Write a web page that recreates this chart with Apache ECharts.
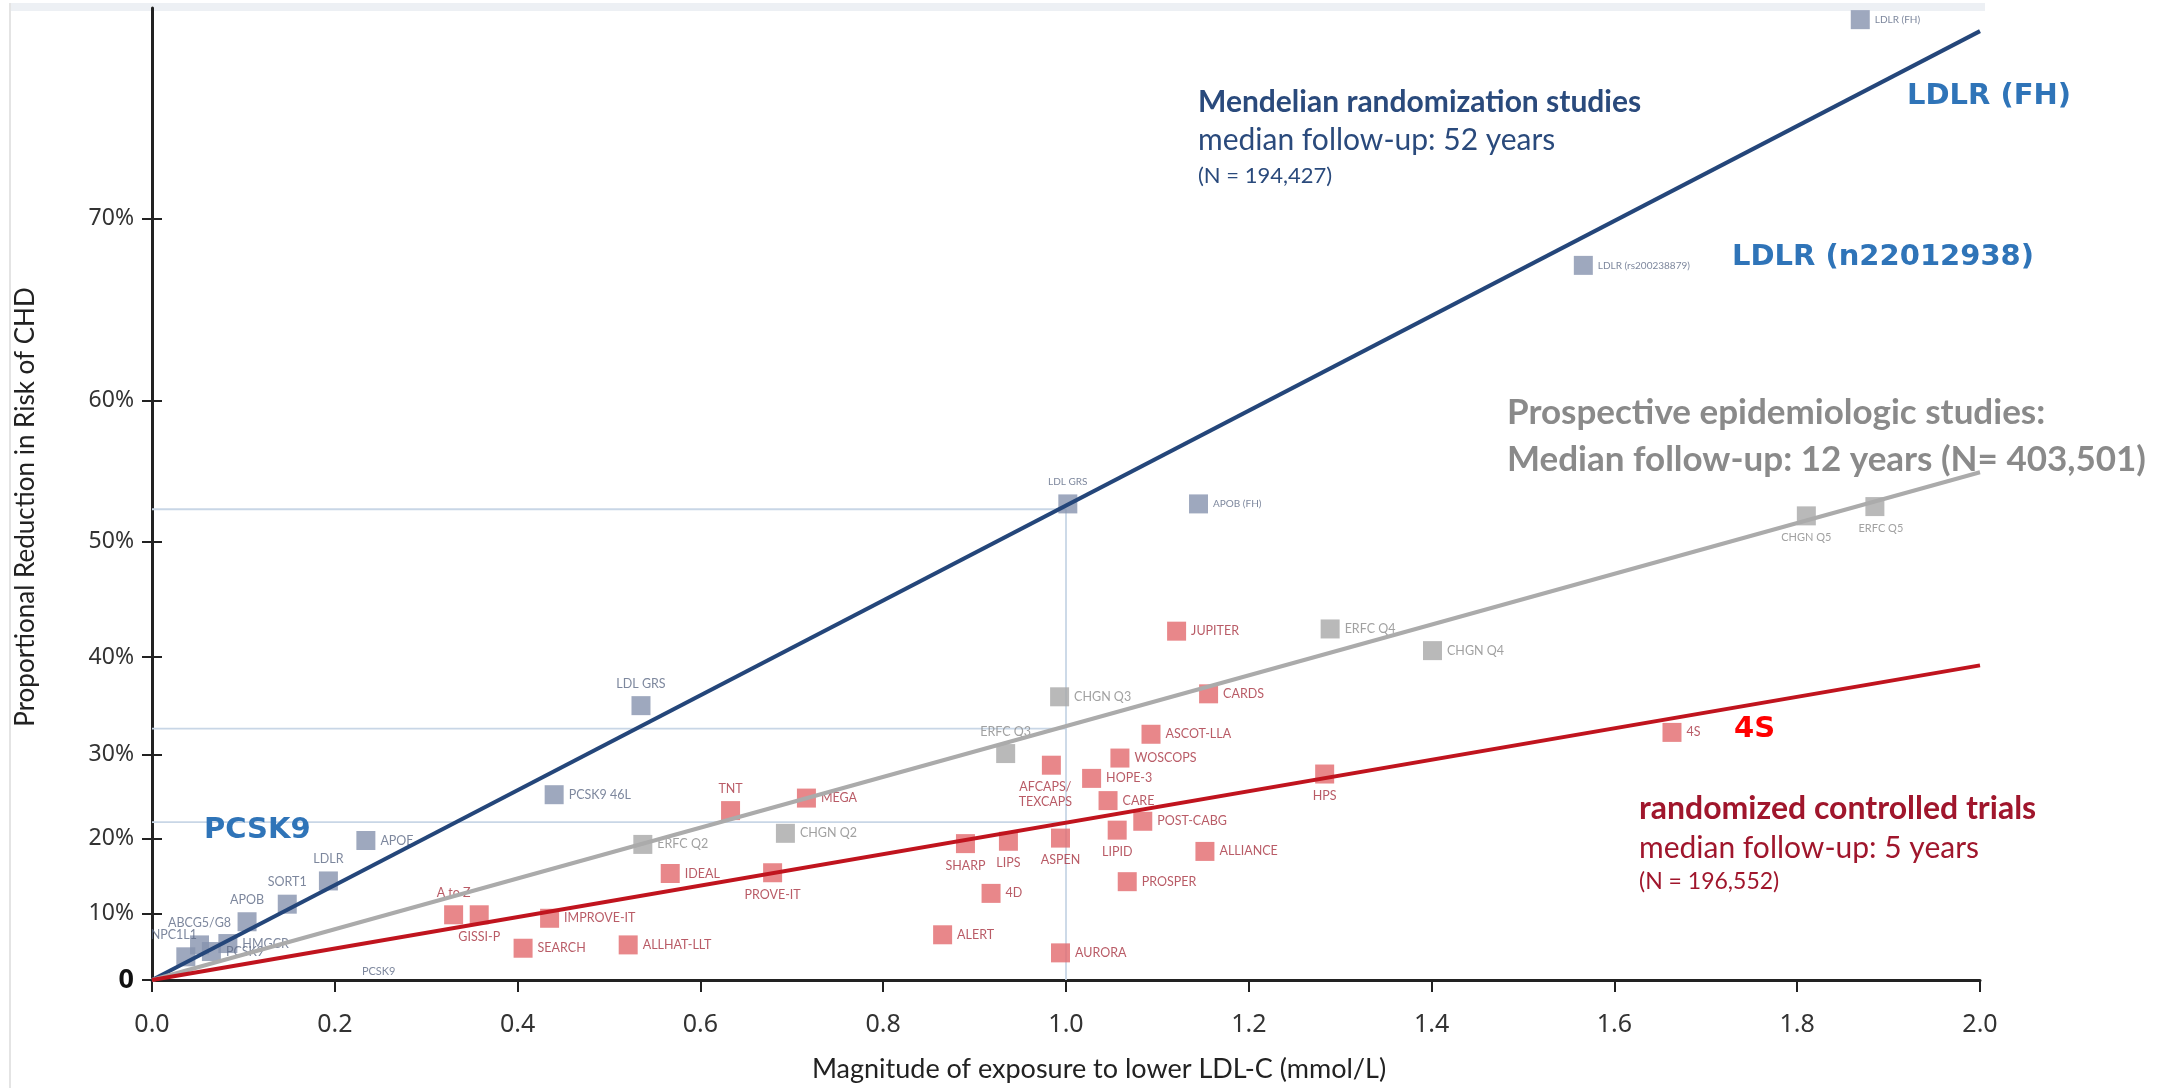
<!DOCTYPE html>
<html><head><meta charset="utf-8">
<script src="https://cdn.jsdelivr.net/npm/echarts@6/dist/echarts.min.js"></script>
<style>html,body{margin:0;padding:0;background:#fff}#c{width:2162px;height:1088px}</style>
</head><body><div id="c"></div>
<script>
// ---------- data (x: mmol/L lower LDL-C, y: % proportional reduction in CHD risk) ----------
const yTickPct = [0, 10, 20, 30, 40, 50, 60, 70];

const mendelNames = ['NPC1L1','ABCG5/G8','PCSK9','HMGCR','APOB','SORT1','LDLR','APOE','PCSK9 46L','LDL GRS','LDL GRS ','APOB (FH)','LDLR (rs200238879)','LDLR (FH)'];
const mendelX = [0.037,0.052,0.065,0.083,0.104,0.148,0.193,0.234,0.440,0.535,1.002,1.145,1.566,1.869];
const mendelY = [3.6,5.4,4.4,5.6,8.8,11.3,14.5,19.8,25.4,35.2,52.9,52.9,67.7,78.1];

const prospNames = ['ERFC Q2','CHGN Q2','ERFC Q3','CHGN Q3','ERFC Q4','CHGN Q4','CHGN Q5','ERFC Q5'];
const prospX = [0.537,0.693,0.934,0.993,1.289,1.401,1.810,1.885];
const prospY = [19.3,20.7,30.1,36.1,42.6,40.6,52.0,52.7];

const rctNames = ['A to Z','GISSI-P','IMPROVE-IT','SEARCH','ALLHAT-LLT','IDEAL','PROVE-IT','TNT','MEGA','ALERT','SHARP','4D','LIPS','AFCAPS/\nTEXCAPS','ASPEN','AURORA','HOPE-3','CARE','WOSCOPS','LIPID','PROSPER','POST-CABG','ASCOT-LLA','JUPITER','ALLIANCE','CARDS','HPS','4S'];
const rctX = [0.330,0.358,0.435,0.406,0.521,0.567,0.679,0.633,0.716,0.865,0.890,0.918,0.937,0.984,0.994,0.994,1.028,1.046,1.059,1.056,1.067,1.084,1.093,1.121,1.152,1.156,1.283,1.663];
const rctY = [9.8,9.8,9.3,4.9,5.4,15.5,15.6,23.5,25.0,6.9,19.4,12.8,19.7,28.8,20.1,4.2,27.3,24.7,29.6,21.1,14.4,22.2,32.2,42.4,18.4,36.4,27.8,32.4];

const orphanLabelName = 'PCSK9';
const orphanLabelX = 0.248;
const orphanLabelY = 1.3;

const fitX = [0, 2.0];
const mendelFitY = [0, 77.7];
const prospFitY = [0, 55.2];
const rctFitY = [0, 39.2];

const refX = [0, 1.0];
const refLevels = [52.5, 32.8, 22.1];

// ---------- styling ----------
const labelPos = {
  'NPC1L1':'top','ABCG5/G8':'top','APOB':'top','SORT1':'top','LDLR':'top','LDL GRS':'top','LDL GRS ':'top',
  'ERFC Q3':'top','CHGN Q5':'bottom','ERFC Q5':'bottom',
  'A to Z':'top','GISSI-P':'bottom','PROVE-IT':'bottom','TNT':'top','SHARP':'bottom','LIPS':'bottom',
  'ASPEN':'bottom','AFCAPS/\nTEXCAPS':'bottom','LIPID':'bottom','HPS':'bottom'
};
const labelOffset = {'NPC1L1':[-12,0],'ERFC Q5':[6,0],'AFCAPS/\nTEXCAPS':[-6,0]};
const labelSize = {'LDLR (FH)':10,'LDLR (rs200238879)':10,'APOB (FH)':10,'LDL GRS ':10,'CHGN Q5':11,'ERFC Q5':11};

const rr = p => 1 - p / 100;   // proportional reduction -> relative risk (log axis, inverted)

function pts(names, xs, ys, lblColor) {
  return names.map((n, i) => ({
    name: n.trim(),
    value: [xs[i], rr(ys[i])],
    label: {
      position: labelPos[n] || 'right',
      offset: labelOffset[n] || [0, 0],
      fontSize: labelSize[n] || 12.5,
      color: lblColor
    }
  }));
}
function seg(xs, ys) { return xs.map((x, i) => [x, rr(ys[i])]); }

const chart = echarts.init(document.getElementById('c'), null, {renderer: 'canvas'});
const yTickRR = yTickPct.map(rr);

const scatterBase = {
  type: 'scatter', symbol: 'rect', symbolSize: 19, z: 3,
  label: {show: true, formatter: '{b}', fontFamily: 'Lato', distance: 5, lineHeight: 15}
};
const lineBase = {type: 'line', symbol: 'none', silent: true, z: 5, animation: false};

const series = [
  // light reference lines
  ...refLevels.map(v => Object.assign({}, lineBase, {
    z: 1, data: seg(refX, [v, v]), lineStyle: {color: '#c8d6e6', width: 1.8}
  })),
  Object.assign({}, lineBase, {z: 1, data: seg([1.0, 1.0], [0, refLevels[0]]), lineStyle: {color: '#c8d6e6', width: 1.8}}),
  // points
  Object.assign({}, scatterBase, {name: 'Mendelian', itemStyle: {color: '#8692ae'}, data: pts(mendelNames, mendelX, mendelY, '#5d6984')}),
  Object.assign({}, scatterBase, {name: 'Prospective', itemStyle: {color: '#a8a8a8'}, data: pts(prospNames, prospX, prospY, '#8a8a8a')}),
  Object.assign({}, scatterBase, {name: 'RCT', itemStyle: {color: '#e2696d'}, data: pts(rctNames, rctX, rctY, '#a83240')}),
  Object.assign({}, scatterBase, {name: 'orphan', symbolSize: 0,
    data: [{name: orphanLabelName, value: [orphanLabelX, rr(orphanLabelY)], label: {position: 'inside', fontSize: 11, color: '#5d6984'}}]}),
  // fitted lines
  Object.assign({}, lineBase, {data: seg(fitX, mendelFitY), lineStyle: {color: '#24467a', width: 4}}),
  Object.assign({}, lineBase, {data: seg(fitX, prospFitY), lineStyle: {color: '#ababab', width: 4}}),
  Object.assign({}, lineBase, {data: seg(fitX, rctFitY), lineStyle: {color: '#c0141e', width: 4}})
];

const yLabelFmt = v => {
  const p = Math.round((1 - v) * 100);
  return p === 0 ? '{z|0}' : p + '%';
};

const txt = (text, left, top, font, fill) => ({type: 'text', left, top, silent: true, z: 10,
  style: {text, font, fill}});

chart.setOption({
  animation: false,
  backgroundColor: '#fff',
  grid: {left: 152, right: 182, top: 8, bottom: 105, containLabel: false},
  xAxis: {
    type: 'value', min: 0, max: 2, interval: 0.2,
    axisLine: {show: true, onZero: false, lineStyle: {color: '#222', width: 3}},
    axisTick: {show: true, length: 12, lineStyle: {color: '#222', width: 2}},
    axisLabel: {formatter: v => v.toFixed(1), fontFamily: 'Noto Sans', fontSize: 25, color: '#333', margin: 32},
    splitLine: {show: false},
    name: 'Magnitude of exposure to lower LDL-C (mmol/L)', nameLocation: 'middle', nameGap: 76,
    nameTextStyle: {fontFamily: 'Lato', fontSize: 27, color: '#222', padding: [0, 0, 0, 66]}
  },
  yAxis: [{
    type: 'log', logBase: 10, min: 0.215, max: 1, inverse: true,
    axisLine: {show: true, lineStyle: {color: '#222', width: 3}},
    axisTick: {show: true, customValues: yTickRR, length: 10, lineStyle: {color: '#222', width: 2}},
    axisLabel: {customValues: yTickRR, formatter: yLabelFmt, fontFamily: 'Noto Sans', fontSize: 23, color: '#333', margin: 18,
      rich: {z: {fontFamily: 'Noto Sans', fontSize: 27, fontWeight: 'bold', color: '#111'}}},
    splitLine: {show: false}, minorTick: {show: false},
    name: 'Proportional Reduction in Risk of CHD', nameLocation: 'middle', nameRotate: 90, nameGap: 113,
    nameTextStyle: {fontFamily: 'Lato', fontSize: 26, color: '#222', padding: [0, 26, 0, 0]}
  }, {
    type: 'log', logBase: 10, min: 0.215, max: 1, inverse: true, position: 'left', offset: 0,
    axisLine: {show: false},
    axisTick: {show: true, inside: true, customValues: yTickRR, length: 10, lineStyle: {color: '#222', width: 2}},
    axisLabel: {show: false}, splitLine: {show: false}
  }],
  series,
  graphic: [
    {type: 'rect', left: 10, top: 3, silent: true, shape: {width: 1975, height: 8}, style: {fill: '#edf0f4'}},
    {type: 'rect', left: 9, top: 3, silent: true, shape: {width: 2, height: 1085}, style: {fill: '#e4e4e4'}},
    txt('Mendelian randomization studies', 1198, 87, 'bold 30px Lato', '#2a4a7c'),
    txt('median follow-up: 52 years', 1198, 125, '30px Lato', '#2a4a7c'),
    txt('(N = 194,427)', 1198, 165, '22px Lato', '#2a4a7c'),
    txt('Prospective epidemiologic studies:', 1507, 395, 'bold 35px Lato', '#8a8a8a'),
    txt('Median follow-up: 12 years (N= 403,501)', 1507, 442, 'bold 35px Lato', '#8a8a8a'),
    txt('randomized controlled trials', 1639, 793, 'bold 32px Lato', '#a0162c'),
    txt('median follow-up: 5 years', 1639, 833, '30px Lato', '#a0162c'),
    txt('(N = 196,552)', 1639, 870, '23px Lato', '#a0162c'),
    txt('LDLR (FH)', 1907, 82, 'bold 29px "DejaVu Sans"', '#2f74b8'),
    txt('LDLR (n22012938)', 1732, 243, 'bold 29px "DejaVu Sans"', '#2f74b8'),
    txt('PCSK9', 204, 816, 'bold 29px "DejaVu Sans"', '#2f74b8'),
    txt('4S', 1734, 715, 'bold 29px "DejaVu Sans"', '#ff0000')
  ]
});
</script>
</body></html>
